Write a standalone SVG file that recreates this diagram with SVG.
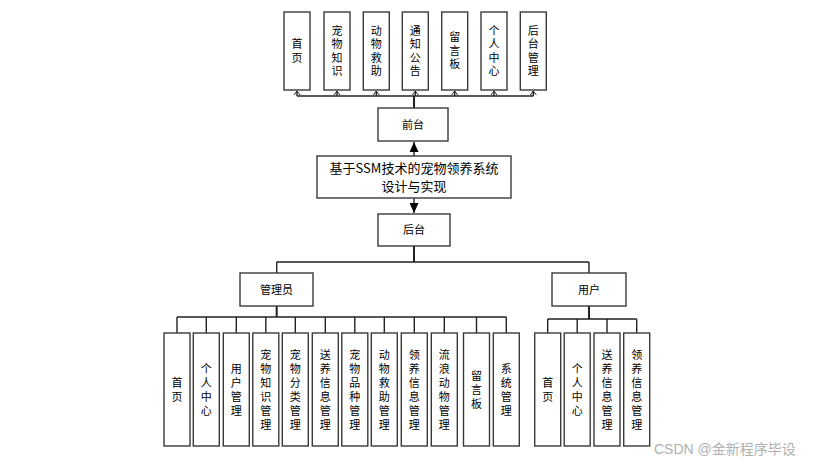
<svg xmlns="http://www.w3.org/2000/svg" width="813" height="464" viewBox="0 0 813 464">
<style>
.b{fill:#fff;stroke:#3a3a3a;stroke-width:1.4}
.t{font-family:"Noto Sans CJK SC","Liberation Sans",sans-serif;font-size:11px;fill:#000;text-anchor:middle}
.v{writing-mode:vertical-rl;glyph-orientation-vertical:0;letter-spacing:2.5px}
.vb{letter-spacing:3px}
.m{font-size:13px}
.c{fill:none;stroke:#222;stroke-width:1.4}
.k{stroke-width:2}
.w{font-family:"Liberation Sans","Noto Sans CJK SC",sans-serif;font-size:14px;fill:#b0b0b0}
</style>
<defs>
<marker id="oa" markerWidth="8" markerHeight="6" refX="4" refY="1" orient="0" markerUnits="userSpaceOnUse" viewBox="0 0 8 6"><path d="M1,5 L4,1 L7,5" fill="none" stroke="#222" stroke-width="1"/></marker>
<marker id="fa" markerWidth="9" markerHeight="10" refX="4.5" refY="0" orient="0" markerUnits="userSpaceOnUse" viewBox="0 0 9 10"><path d="M0,10 L4.5,0 L9,10 Z" fill="#000"/></marker>
<marker id="fd" markerWidth="9" markerHeight="10" refX="4.5" refY="10" orient="0" markerUnits="userSpaceOnUse" viewBox="0 0 9 10"><path d="M0,0 L4.5,10 L9,0 Z" fill="#000"/></marker>
</defs>
<rect width="813" height="464" fill="#fff"/>
<g id="connectors">
<path class="c" d="M297,96 H533.3"/>
<path class="c" d="M297,96 V91" marker-end="url(#oa)"/>
<path class="c" d="M337,96 V91" marker-end="url(#oa)"/>
<path class="c" d="M376.3,96 V91" marker-end="url(#oa)"/>
<path class="c" d="M415.3,96 V91" marker-end="url(#oa)"/>
<path class="c" d="M454.7,96 V91" marker-end="url(#oa)"/>
<path class="c" d="M494,96 V91" marker-end="url(#oa)"/>
<path class="c" d="M533.3,96 V91" marker-end="url(#oa)"/>
<path class="c k" d="M414,96 V108"/>
<path class="c" d="M414,156 V142" marker-end="url(#fa)"/>
<path class="c" d="M414,198 V213" marker-end="url(#fd)"/>
<path class="c k" d="M414,246 V262"/>
<path class="c" d="M276.7,262 H589 M276.7,262 V273 M589,262 V273"/>
<path class="c k" d="M276.7,306 V317"/>
<path class="c" d="M177,317 H506.3 M177,317 V333 M206.3,317 V333 M236.3,317 V333 M265.8,317 V333 M295.3,317 V333 M325.3,317 V333 M354.8,317 V333 M384.3,317 V333 M414.3,317 V333 M444.3,317 V333 M476.5,317 V333 M506.3,317 V333"/>
<path class="c k" d="M589,306 V319"/>
<path class="c" d="M547.7,319 H636.7 M547.7,319 V333 M577.2,319 V333 M607,319 V333 M636.7,319 V333"/>
</g>
<g id="n-shouye-top"><rect class="b" x="284" y="12" width="26" height="78"/><text class="t v" x="297" y="52">首页</text></g>
<g id="n-chongwuzhishi"><rect class="b" x="324" y="12" width="26" height="78"/><text class="t v" x="337" y="52">宠物知识</text></g>
<g id="n-dongwujiuzhu"><rect class="b" x="363.3" y="12" width="26" height="78"/><text class="t v" x="376.3" y="52">动物救助</text></g>
<g id="n-tongzhi"><rect class="b" x="402.3" y="12" width="26" height="78"/><text class="t v" x="415.3" y="52">通知公告</text></g>
<g id="n-liuyanban-top"><rect class="b" x="441.7" y="12" width="26" height="78"/><text class="t v" x="454.7" y="52">留言板</text></g>
<g id="n-gerenzhongxin-top"><rect class="b" x="481" y="12" width="26" height="78"/><text class="t v" x="494" y="52">个人中心</text></g>
<g id="n-houtaiguanli"><rect class="b" x="520.3" y="12" width="26" height="78"/><text class="t v" x="533.3" y="52">后台管理</text></g>
<g id="n-qiantai"><rect class="b" x="378" y="108" width="70" height="33"/><text class="t" x="413" y="128.5">前台</text></g>
<g id="n-main"><rect class="b" x="317" y="156" width="194" height="42"/><text class="t m" x="414" y="173">基于SSM技术的宠物领养系统</text><text class="t m" x="414" y="191">设计与实现</text></g>
<g id="n-houtai"><rect class="b" x="378" y="214" width="72" height="32"/><text class="t" x="414" y="234">后台</text></g>
<g id="n-admin"><rect class="b" x="240" y="273" width="73" height="33"/><text class="t" x="276.5" y="293.5">管理员</text></g>
<g id="n-user"><rect class="b" x="552" y="273" width="74" height="33"/><text class="t" x="589" y="293.5">用户</text></g>
<g id="a1"><rect class="b" x="164" y="333" width="26" height="113"/><text class="t v vb" x="177" y="391">首页</text></g>
<g id="a2"><rect class="b" x="193.3" y="333" width="26" height="113"/><text class="t v vb" x="206.3" y="391">个人中心</text></g>
<g id="a3"><rect class="b" x="223.3" y="333" width="26" height="113"/><text class="t v vb" x="236.3" y="391">用户管理</text></g>
<g id="a4"><rect class="b" x="252.8" y="333" width="26" height="113"/><text class="t v vb" x="265.8" y="391">宠物知识管理</text></g>
<g id="a5"><rect class="b" x="282.3" y="333" width="26" height="113"/><text class="t v vb" x="295.3" y="391">宠物分类管理</text></g>
<g id="a6"><rect class="b" x="312.3" y="333" width="26" height="113"/><text class="t v vb" x="325.3" y="391">送养信息管理</text></g>
<g id="a7"><rect class="b" x="341.8" y="333" width="26" height="113"/><text class="t v vb" x="354.8" y="391">宠物品种管理</text></g>
<g id="a8"><rect class="b" x="371.3" y="333" width="26" height="113"/><text class="t v vb" x="384.3" y="391">动物救助管理</text></g>
<g id="a9"><rect class="b" x="401.3" y="333" width="26" height="113"/><text class="t v vb" x="414.3" y="391">领养信息管理</text></g>
<g id="a10"><rect class="b" x="431.3" y="333" width="26" height="113"/><text class="t v vb" x="444.3" y="391">流浪动物管理</text></g>
<g id="a11"><rect class="b" x="463.5" y="333" width="26" height="113"/><text class="t v vb" x="476.5" y="391">留言板</text></g>
<g id="a12"><rect class="b" x="493.3" y="333" width="26" height="113"/><text class="t v vb" x="506.3" y="391">系统管理</text></g>
<g id="u1"><rect class="b" x="534.7" y="333" width="26" height="113"/><text class="t v vb" x="547.7" y="391">首页</text></g>
<g id="u2"><rect class="b" x="564.2" y="333" width="26" height="113"/><text class="t v vb" x="577.2" y="391">个人中心</text></g>
<g id="u3"><rect class="b" x="594" y="333" width="26" height="113"/><text class="t v vb" x="607" y="391">送养信息管理</text></g>
<g id="u4"><rect class="b" x="623.7" y="333" width="26" height="113"/><text class="t v vb" x="636.7" y="391">领养信息管理</text></g>
<text class="w" x="654" y="454">CSDN @金新程序毕设</text>
</svg>
